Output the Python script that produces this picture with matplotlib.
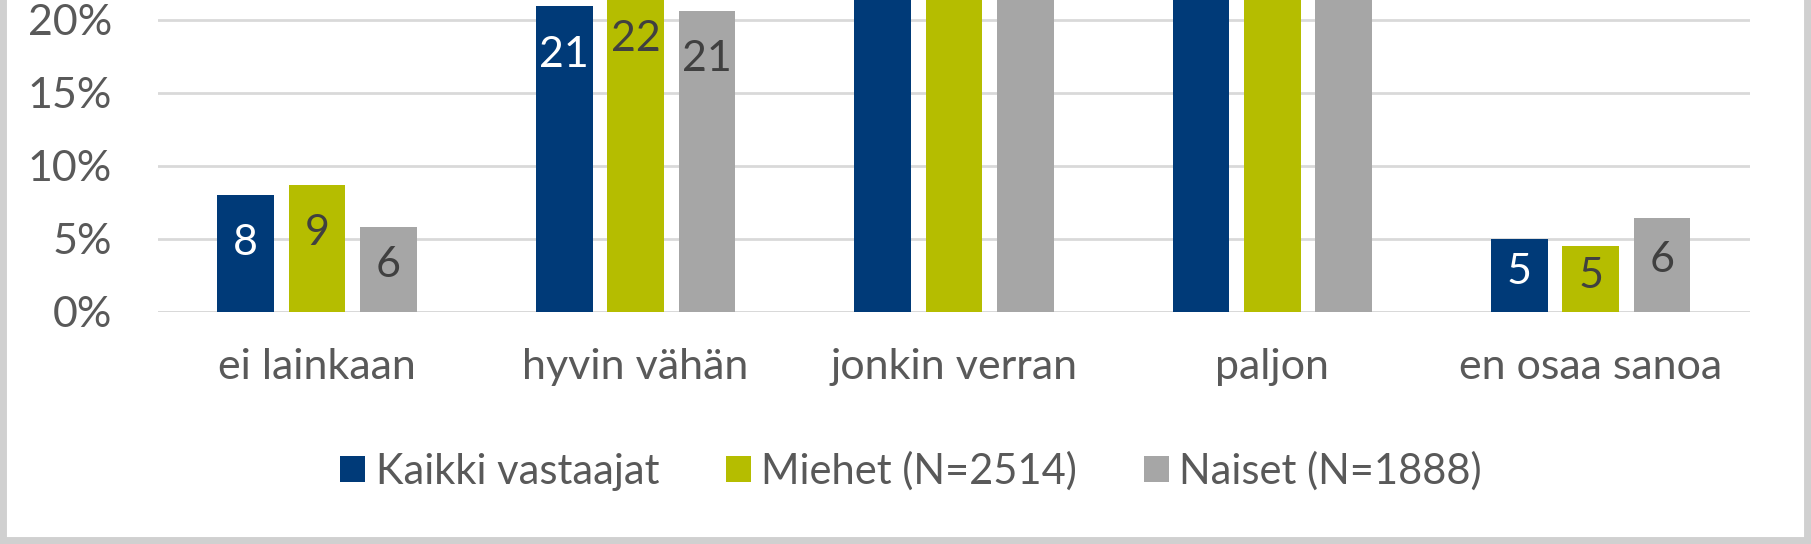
import numpy as np
import matplotlib.pyplot as plt
from matplotlib.patches import Rectangle

plt.rcParams['font.family'] = ['Lato', 'DejaVu Sans']

categories = ['ei lainkaan', 'hyvin vähän', 'jonkin verran', 'paljon', 'en osaa sanoa']
series = ['Kaikki vastaajat', 'Miehet (N=2514)', 'Naiset (N=1888)']
# middle groups are cut off at the top of the picture, values estimated
kaikki = [8.0, 20.9, 40.0, 26.0, 5.0]
miehet = [8.7, 22.0, 39.0, 25.8, 4.5]
naiset = [5.8, 20.6, 41.0, 26.3, 6.4]
labels_k = ['8', '21', '40', '26', '5']
labels_m = ['9', '22', '39', '26', '5']
labels_n = ['6', '21', '41', '26', '6']

colors = ['#003A78', '#B5BD00', '#A6A6A6']
label_colors = ['white', '#404040', '#404040']

fig = plt.figure(figsize=(18.11, 5.44), dpi=100)
ax = fig.add_axes([0.0872, 0.4268, 0.8791, 0.5732])

ytop = 21.34
x = np.arange(len(categories))
w = 0.178
step = 0.224
for i, (vals, labs) in enumerate(zip([kaikki, miehet, naiset], [labels_k, labels_m, labels_n])):
    pos = x + (i - 1) * step
    ax.bar(pos, vals, width=w, color=colors[i], label=series[i], zorder=2)
    for p, v, t in zip(pos, vals, labs):
        ypos = max(v - 3.3, v * 0.55)
        if ypos > ytop - 1:
            continue  # label sits above the visible part
        ax.text(p, ypos, t, ha='center', va='center', fontsize=31,
                color=label_colors[i], clip_on=True, zorder=3)

ax.set_xlim(-0.5, len(categories) - 0.5)
ax.set_ylim(0, ytop)
ax.set_yticks([0, 5, 10, 15, 20])
ax.set_yticklabels(['0%', '5%', '10%', '15%', '20%'])
ax.set_xticks(x)
ax.set_xticklabels(categories)
ax.yaxis.grid(True, color='#D9D9D9', linewidth=2, zorder=0)
ax.tick_params(axis='y', length=0, pad=33, labelsize=31, labelcolor='#595959')
ax.tick_params(axis='x', length=0, pad=26, labelsize=31, labelcolor='#595959')
for s in ax.spines.values():
    s.set_visible(False)
ax.axhline(0, color='#D9D9D9', linewidth=2, zorder=1)

leg = fig.legend(loc='center', bbox_to_anchor=(0.503, 0.134), ncol=3, frameon=False,
                 fontsize=30, handlelength=0.6, handleheight=0.6, handletextpad=0.25,
                 columnspacing=1.6)
for t in leg.get_texts():
    t.set_color('#595959')

# outer chart border
fig.patches.append(Rectangle((0.0, 0.0), 1.0, 1.2, transform=fig.transFigure,
                             fill=False, edgecolor='#D0D0D0', linewidth=10, clip_on=False))

fig.savefig('out.png', dpi=100)
